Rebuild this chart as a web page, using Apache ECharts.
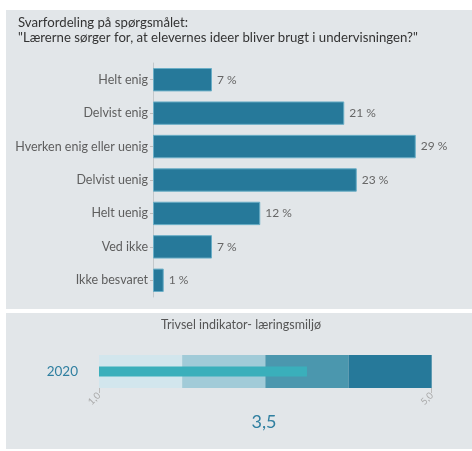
<!DOCTYPE html>
<html><head><meta charset="utf-8">
<script src="https://cdn.jsdelivr.net/npm/echarts@6/dist/echarts.min.js"></script>
<style>html,body{margin:0;padding:0;background:#fff}#c{width:472px;height:451px}</style>
</head><body><div id="c"></div>
<script>
const categories = ["Helt enig","Delvist enig","Hverken enig eller uenig","Delvist uenig","Helt uenig","Ved ikke","Ikke besvaret"];
const shares = [6.6, 21.4, 29.4, 22.8, 12.0, 6.6, 1.2];
const indicatorYears = ["2020"];
const indicatorValues = [3.5];
const bandEdges = [1, 2, 3, 4, 5];
const bulletTicks = [1, 5];

const FONT = "Lato";
const bandColors = ["#d2e6ed", "#a1cbd8", "#4b97ae", "#26799a"];

const chart = echarts.init(document.getElementById('c'), null, {renderer: 'canvas'});
chart.setOption({
  animation: false,
  backgroundColor: '#ffffff',
  textStyle: {fontFamily: FONT},
  graphic: [
    {type: 'rect', z: -10, shape: {x: 6, y: 10, width: 466, height: 299}, style: {fill: '#e2e6e9'}},
    {type: 'rect', z: -10, shape: {x: 6, y: 313, width: 466, height: 136}, style: {fill: '#e2e6e9'}}
  ],
  title: [
    {text: 'Svarfordeling på spørgsmålet:\n"Lærerne sørger for, at elevernes ideer bliver brugt i undervisningen?"',
     left: 18, top: 15, padding: 0,
     textStyle: {fontFamily: FONT, fontSize: 13.2, fontWeight: 'normal', color: '#333', lineHeight: 15}},
    {text: 'Trivsel indikator- læringsmiljø', left: 241, top: 318, padding: 0, textAlign: 'center',
     textStyle: {fontFamily: FONT, fontSize: 12.5, fontWeight: 'normal', color: '#555'}},
    {text: String(indicatorValues[0]).replace('.', ','), left: 264, top: 413, padding: 0, textAlign: 'center',
     textStyle: {fontFamily: FONT, fontSize: 18, fontWeight: 'normal', color: '#2f7fa0'}}
  ],
  grid: [
    {left: 153, top: 63, width: 286, height: 234},
    {left: 99, top: 355, width: 332.7, height: 33}
  ],
  xAxis: [
    {gridIndex: 0, type: 'value', min: 0, max: 32, show: false},
    {gridIndex: 1, type: 'value', min: 1, max: 5, interval: 1,
     axisLine: {show: false}, splitLine: {show: false},
     axisTick: {show: true, customValues: bulletTicks, length: 5, lineStyle: {color: '#bbb'}},
     axisLabel: {customValues: bulletTicks, rotate: 45, fontSize: 9.5, color: '#aaa', margin: 6,
       formatter: v => v.toFixed(1).replace('.', ',')}}
  ],
  yAxis: [
    {gridIndex: 0, type: 'category', data: categories, inverse: true,
     axisLine: {show: true, lineStyle: {color: '#c4c8cb', width: 1}},
     axisTick: {show: true, length: 3, alignWithLabel: true, lineStyle: {color: '#bbb'}},
     axisLabel: {fontFamily: FONT, fontSize: 12.5, color: '#5e5e5e', margin: 5}},
    {gridIndex: 1, type: 'category', data: indicatorYears,
     axisLine: {show: false}, axisTick: {show: false},
     axisLabel: {fontFamily: FONT, fontSize: 13.5, color: '#2f7fa0', margin: 21}}
  ],
  series: [
    {type: 'bar', xAxisIndex: 0, yAxisIndex: 0, data: shares, barCategoryGap: '30%',
     itemStyle: {color: '#26799a', borderColor: '#6aaec6', borderWidth: 1},
     label: {show: true, position: 'right', distance: 5, fontFamily: FONT, fontSize: 12, color: '#666',
       formatter: p => Math.round(p.value) + ' %'}},
    {type: 'bar', xAxisIndex: 1, yAxisIndex: 1, data: indicatorValues, barWidth: 10, clip: true, z: 5,
     itemStyle: {color: '#3aafbb'},
     markArea: {silent: true, data: bandEdges.slice(0, -1).map((e, i) => [
       {xAxis: e, itemStyle: {color: bandColors[i]}}, {xAxis: bandEdges[i + 1]}])}}
  ]
});
</script></body></html>
